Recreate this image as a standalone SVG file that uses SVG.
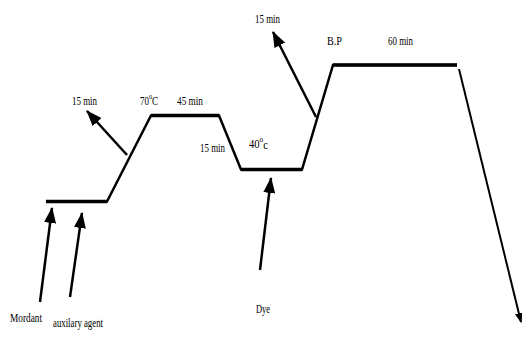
<svg xmlns="http://www.w3.org/2000/svg" width="522" height="337" viewBox="0 0 522 337">
<defs>
<marker id="ah" viewBox="0 0 16 12" refX="15" refY="6" markerWidth="16" markerHeight="12" markerUnits="userSpaceOnUse" orient="auto">
<path d="M0,0 L16,6 L0,12 Z" fill="#000"/>
</marker>
<marker id="ahs" viewBox="0 0 10 8" refX="9" refY="4" markerWidth="10" markerHeight="8" markerUnits="userSpaceOnUse" orient="auto">
<path d="M0,0 L10,4 L0,8 Z" fill="#000"/>
</marker>
<style>
.t{font-family:"Liberation Serif","Times New Roman",serif;font-size:13px;fill:#000}
.ln{fill:none;stroke:#000;stroke-width:2.5;stroke-linejoin:miter}
.hz{fill:none;stroke:#000;stroke-width:3.5}
.ar{fill:none;stroke:#000;stroke-width:2.5;marker-end:url(#ah)}
</style>
</defs>
<rect width="522" height="337" fill="#fff"/>
<g id="profile">
<path class="ln" d="M46,201.5 H107 L151,115.5 H219 L241,169.5 H302 L333,65 H457"/>
<path class="hz" d="M46,201.5 H107 M151,115.5 H219 M241,169.5 H302 M333,65 H457"/>
<path d="M459,69 L521,322" fill="none" stroke="#000" stroke-width="2" marker-end="url(#ahs)"/>
</g>
<g id="connectors">
<path class="ar" d="M127,155 L87,111"/>
<path class="ar" d="M316,117 L273,32"/>
<path class="ar" d="M40,302 L52,208"/>
<path class="ar" d="M70,297 L82,213"/>
<path class="ar" d="M260,270 L271,178"/>
</g>
<g id="labels">
<text class="t" x="72" y="105" textLength="25" lengthAdjust="spacingAndGlyphs">15 min</text>
<text class="t" x="140" y="105" textLength="18" lengthAdjust="spacingAndGlyphs">70<tspan dy="-6" font-size="9">o</tspan><tspan dy="6">C</tspan></text>
<text class="t" x="177" y="105" textLength="26" lengthAdjust="spacingAndGlyphs">45 min</text>
<text class="t" x="200" y="152" textLength="25" lengthAdjust="spacingAndGlyphs">15 min</text>
<text class="t" x="249" y="148" textLength="19" lengthAdjust="spacingAndGlyphs">40<tspan dy="-6" font-size="9">o</tspan><tspan dy="7">c</tspan></text>
<text class="t" x="255" y="23" textLength="25" lengthAdjust="spacingAndGlyphs">15 min</text>
<text class="t" x="327" y="45" textLength="15" lengthAdjust="spacingAndGlyphs">B.P</text>
<text class="t" x="388" y="45" textLength="25" lengthAdjust="spacingAndGlyphs">60 min</text>
<text class="t" x="10" y="322" textLength="32" lengthAdjust="spacingAndGlyphs">Mordant</text>
<text class="t" x="53" y="327" textLength="50" lengthAdjust="spacingAndGlyphs">auxilary agent</text>
<text class="t" x="256" y="313" textLength="14" lengthAdjust="spacingAndGlyphs">Dye</text>
</g>
</svg>
